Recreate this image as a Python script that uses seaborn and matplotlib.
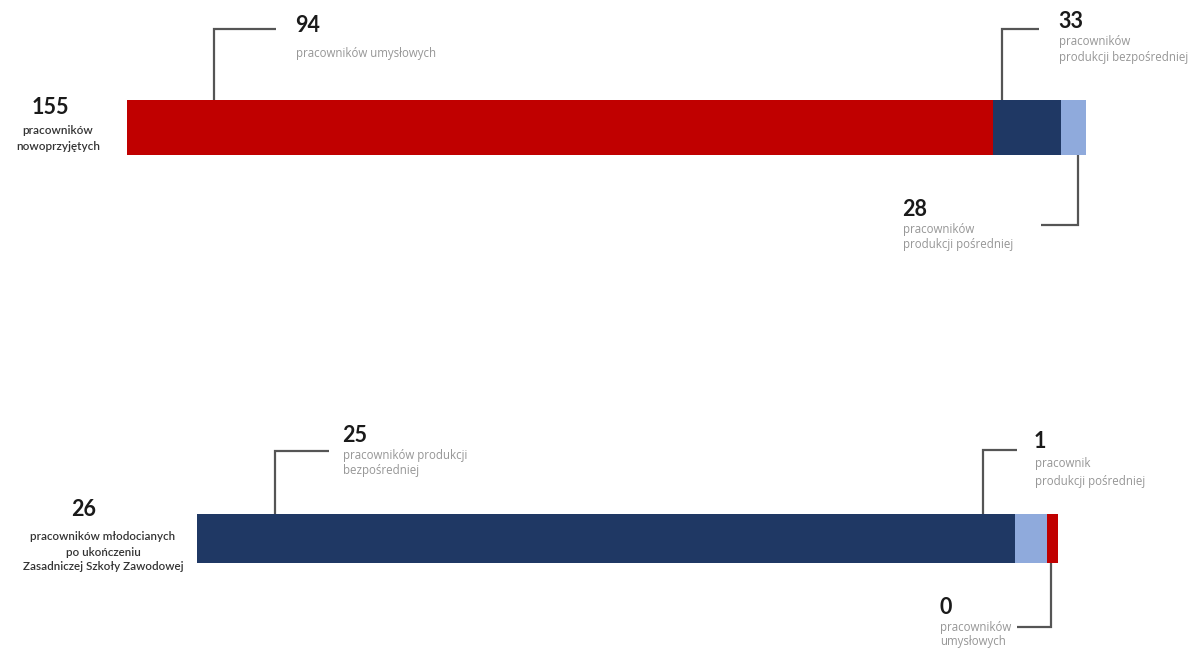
import matplotlib
matplotlib.use("Agg")
import matplotlib.pyplot as plt
import seaborn as sns
import pandas as pd
import numpy as np

# ---------------- data ----------------
# top bar: newly hired employees
top_total = 155
top_total_label = ["pracowników", "nowoprzyjętych"]
top_groups = ["pracowników umysłowych", "produkcji bezpośredniej", "produkcji pośredniej"]
top_counts = [94, 33, 28]
top_lengths = [866, 68, 25]          # drawn segment widths
top_colors_key = ["red", "navy", "light"]

# bottom bar: juvenile employees after vocational school
bottom_total = 26
bottom_total_label = ["pracowników młodocianych", "po ukończeniu", "Zasadniczej Szkoły Zawodowej"]
bottom_groups = ["produkcji bezpośredniej", "produkcji pośredniej", "pracowników umysłowych"]
bottom_counts = [25, 1, 0]
bottom_lengths = [818, 32, 11]       # drawn segment widths
bottom_colors_key = ["navy", "light", "red"]

# ---------------- style ----------------
sns.set_theme(style="white")
plt.rcParams["font.family"] = ["Lato", "DejaVu Sans"]

PALETTE = {"red": "#C00000", "navy": "#1F3864", "light": "#8FAADC"}
LINE = "#555555"
SUB = "#969696"
DARK = "#1A1A1A"

W, H = 1189, 649
fig = plt.figure(figsize=(W / 100, H / 100), dpi=100)
ax = fig.add_axes([0, 0, 1, 1])
ax.set_xlim(0, W)
ax.set_ylim(H, 0)
ax.axis("off")

# ---------------- bars ----------------
def stacked(ax, start, yc, h, lengths, keys):
    left = start
    for L, k in zip(lengths, keys):
        ax.barh(yc, L, left=left, height=h, color=PALETTE[k], edgecolor="none")
        left += L

stacked(ax, 127, 127.5, 55, top_lengths, top_colors_key)
stacked(ax, 197, 538.5, 49, bottom_lengths, bottom_colors_key)

# ---------------- leaders ----------------
def leader(pts):
    xs, ys = zip(*pts)
    ax.plot(xs, ys, color=LINE, lw=1.6, solid_capstyle="butt", solid_joinstyle="miter")

leader([(214, 100), (214, 29), (276, 29)])
leader([(1002, 100), (1002, 29), (1039, 29)])
leader([(1078, 155), (1078, 225), (1041, 225)])
leader([(275, 514), (275, 451), (329, 451)])
leader([(983, 514), (983, 450), (1017, 450)])
leader([(1051, 563), (1051, 627), (1017, 627)])

# ---------------- texts ----------------
NUM = dict(fontsize=15.5, fontweight="bold", color=DARK, va="center")
SUBT = dict(fontsize=8.3, color=SUB, va="center", family=["Open Sans", "DejaVu Sans"])

def callout(x, y, num, lines, dy0=19, step=15.5):
    ax.text(x, y, str(num), ha="left", **NUM)
    for i, s in enumerate(lines):
        ax.text(x + 1, y + dy0 + i * step, s, ha="left", **SUBT)

callout(295, 25, top_counts[0], ["pracowników umysłowych"], dy0=28)
callout(1058, 21, top_counts[1], ["pracowników", "produkcji bezpośredniej"], dy0=21)
callout(902, 210, top_counts[2], ["pracowników", "produkcji pośredniej"], dy0=19)

callout(342, 436, bottom_counts[0], ["pracowników produkcji", "bezpośredniej"], dy0=19)
callout(1034, 441, bottom_counts[1], ["pracownik", "produkcji pośredniej"], dy0=22, step=19)
callout(939, 608, bottom_counts[2], ["pracowników", "umysłowych"], dy0=19, step=14)

# totals on the left
ax.text(50, 108, str(top_total), ha="center", **NUM)
for i, s in enumerate(top_total_label):
    ax.text(58, 131 + i * 15, s, ha="center", va="center", fontsize=8.5,
            color="#333333", fontweight="semibold")

ax.text(84, 510, str(bottom_total), ha="center", **NUM)
for i, s in enumerate(bottom_total_label):
    ax.text(103, 537 + i * 15, s, ha="center", va="center", fontsize=8.4,
            color="#333333", fontweight="semibold")

fig.savefig("out.png", dpi=100, facecolor="white")
